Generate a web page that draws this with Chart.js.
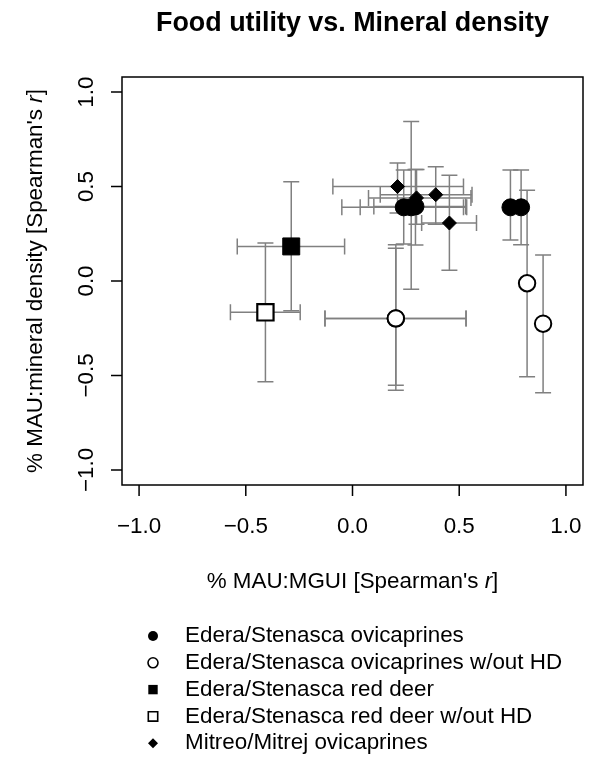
<!DOCTYPE html>
<html><head><meta charset="utf-8">
<script src="https://cdn.jsdelivr.net/npm/chart.js@4.4.1/dist/chart.umd.min.js"></script>
<style>html,body{margin:0;padding:0;background:#fff;}canvas{display:block}</style>
</head><body>
<div style="width:591px;height:758px;position:relative"><canvas id="c" width="591" height="758"></canvas></div>
<script>
// ---- data ----
const chartTitle = "Food utility vs. Mineral density";
const xTitleMain = "% MAU:MGUI [Spearman's ";
const yTitleMain = "% MAU:mineral density [Spearman's ";
const tickValues = [-1.0, -0.5, 0.0, 0.5, 1.0];
const tickLabels = ["\u22121.0", "\u22120.5", "0.0", "0.5", "1.0"];
const seriesLabels = [
  "Edera/Stenasca ovicaprines",
  "Edera/Stenasca ovicaprines w/out HD",
  "Edera/Stenasca red deer",
  "Edera/Stenasca red deer w/out HD",
  "Mitreo/Mitrej ovicaprines"
];
// Edera/Stenasca ovicaprines
const ovX   = [0.24, 0.275, 0.295, 0.74, 0.79];
const ovY   = [0.39, 0.39, 0.395, 0.39, 0.39];
const ovXLo = [-0.05, 0.036, 0.10, null, null];
const ovXHi = [0.52, 0.535, 0.53, null, null];
const ovYLo = [0.196, -0.044, 0.19, 0.217, 0.192];
const ovYHi = [0.587, 0.845, 0.59, 0.587, 0.587];
// Edera/Stenasca ovicaprines w/out HD
const ovHdX   = [0.203, 0.203, 0.818, 0.893];
const ovHdY   = [-0.198, -0.198, -0.012, -0.226];
const ovHdXLo = [-0.129, -0.129, null, null];
const ovHdXHi = [0.532, 0.532, null, null];
const ovHdYLo = [-0.578, -0.552, -0.507, -0.591];
const ovHdYHi = [0.192, 0.173, 0.48, 0.137];
// Edera/Stenasca red deer
const rdX = [-0.287], rdY = [0.183];
const rdXLo = [-0.54], rdXHi = [-0.037], rdYLo = [-0.157], rdYHi = [0.525];
// Edera/Stenasca red deer w/out HD
const rdHdX = [-0.408], rdHdY = [-0.166];
const rdHdXLo = [-0.572], rdHdXHi = [-0.245], rdHdYLo = [-0.534], rdHdYHi = [0.201];
// Mitreo/Mitrej ovicaprines
const miX   = [0.211, 0.39, 0.454, 0.30];
const miY   = [0.50, 0.457, 0.307, 0.44];
const miXLo = [-0.092, 0.13, 0.324, 0.075];
const miXHi = [0.52, 0.56, 0.581, 0.555];
const miYLo = [0.36, 0.30, 0.057, 0.30];
const miYHi = [0.625, 0.605, 0.56, 0.59];

function pts(xs, ys, xlo, xhi, ylo, yhi) {
  return xs.map((x, i) => ({x: x, y: ys[i], xLo: xlo[i], xHi: xhi[i], yLo: ylo[i], yHi: yhi[i]}));
}

const FONT = '"Liberation Sans", Arial, Helvetica, sans-serif';
const BASE = 22.4;
const BAR_COLOR = '#808080';

const datasets = [
  {label: seriesLabels[0], data: pts(ovX, ovY, ovXLo, ovXHi, ovYLo, ovYHi),
   pointStyle: 'circle', pointRadius: 8.5, backgroundColor: '#000', borderColor: '#000', borderWidth: 1, legendStyle: 'circle', legendFill: true},
  {label: seriesLabels[1], data: pts(ovHdX, ovHdY, ovHdXLo, ovHdXHi, ovHdYLo, ovHdYHi),
   pointStyle: 'circle', pointRadius: 8.2, backgroundColor: '#fff', borderColor: '#000', borderWidth: 2, legendStyle: 'circle', legendFill: false},
  {label: seriesLabels[2], data: pts(rdX, rdY, rdXLo, rdXHi, rdYLo, rdYHi),
   pointStyle: 'rect', pointRadius: 12, backgroundColor: '#000', borderColor: '#000', borderWidth: 1, legendStyle: 'rect', legendFill: true},
  {label: seriesLabels[3], data: pts(rdHdX, rdHdY, rdHdXLo, rdHdXHi, rdHdYLo, rdHdYHi),
   pointStyle: 'rect', pointRadius: 11.5, backgroundColor: '#fff', borderColor: '#000', borderWidth: 2.2, legendStyle: 'rect', legendFill: false},
  {label: seriesLabels[4], data: pts(miX, miY, miXLo, miXHi, miYLo, miYHi),
   pointStyle: 'rectRot', pointRadius: 7, backgroundColor: '#000', borderColor: '#000', borderWidth: 1, legendStyle: 'diamond', legendFill: true}
];

const errorBars = {
  id: 'errorBars',
  beforeDatasetsDraw(chart) {
    const ctx = chart.ctx, xs = chart.scales.x, ys = chart.scales.y;
    const cap = 8;
    ctx.save();
    ctx.strokeStyle = BAR_COLOR;
    ctx.lineWidth = 1.5;
    chart.data.datasets.forEach(ds => {
      ds.data.forEach(p => {
        const px = xs.getPixelForValue(p.x), py = ys.getPixelForValue(p.y);
        ctx.beginPath();
        if (p.xLo !== null && p.xHi !== null) {
          const a = xs.getPixelForValue(p.xLo), b = xs.getPixelForValue(p.xHi);
          ctx.moveTo(a, py); ctx.lineTo(b, py);
          ctx.moveTo(a, py - cap); ctx.lineTo(a, py + cap);
          ctx.moveTo(b, py - cap); ctx.lineTo(b, py + cap);
        }
        if (p.yLo !== null && p.yHi !== null) {
          const a = ys.getPixelForValue(p.yLo), b = ys.getPixelForValue(p.yHi);
          ctx.moveTo(px, a); ctx.lineTo(px, b);
          ctx.moveTo(px - cap, a); ctx.lineTo(px + cap, a);
          ctx.moveTo(px - cap, b); ctx.lineTo(px + cap, b);
        }
        ctx.stroke();
      });
    });
    ctx.restore();
  }
};

function drawMixed(ctx, main, cx, cy, size) {
  ctx.font = size + 'px ' + FONT;
  const w1 = ctx.measureText(main).width;
  ctx.font = 'italic ' + size + 'px ' + FONT;
  const w2 = ctx.measureText('r').width;
  ctx.font = size + 'px ' + FONT;
  const w3 = ctx.measureText(']').width;
  const total = w1 + w2 + w3;
  let x = cx - total / 2;
  ctx.textAlign = 'left';
  ctx.textBaseline = 'middle';
  ctx.fillText(main, x, cy); x += w1;
  ctx.font = 'italic ' + size + 'px ' + FONT;
  ctx.fillText('r', x, cy); x += w2;
  ctx.font = size + 'px ' + FONT;
  ctx.fillText(']', x, cy);
}

const frame = {
  id: 'frame',
  afterDraw(chart) {
    const ctx = chart.ctx, a = chart.chartArea, xs = chart.scales.x, ys = chart.scales.y;
    ctx.save();
    ctx.strokeStyle = '#000';
    ctx.lineWidth = 1.5;
    ctx.strokeRect(a.left, a.top, a.right - a.left, a.bottom - a.top);
    const tl = 11;
    ctx.beginPath();
    tickValues.forEach(v => {
      const px = xs.getPixelForValue(v);
      ctx.moveTo(px, a.bottom); ctx.lineTo(px, a.bottom + tl);
      const py = ys.getPixelForValue(v);
      ctx.moveTo(a.left - tl, py); ctx.lineTo(a.left, py);
    });
    ctx.stroke();
    ctx.fillStyle = '#000';
    ctx.font = BASE + 'px ' + FONT;
    ctx.textAlign = 'center';
    ctx.textBaseline = 'middle';
    tickValues.forEach((v, i) => {
      ctx.fillText(tickLabels[i], xs.getPixelForValue(v), 527);
    });
    tickValues.forEach((v, i) => {
      ctx.save();
      ctx.translate(87, ys.getPixelForValue(v));
      ctx.rotate(-Math.PI / 2);
      ctx.fillText(tickLabels[i], 0, 0);
      ctx.restore();
    });
    // axis titles
    drawMixed(ctx, xTitleMain, (a.left + a.right) / 2, 582, BASE);
    ctx.save();
    ctx.translate(36, (a.top + a.bottom) / 2);
    ctx.rotate(-Math.PI / 2);
    drawMixed(ctx, yTitleMain, 0, 0, BASE);
    ctx.restore();
    // title
    ctx.font = 'bold 26.9px ' + FONT;
    ctx.textAlign = 'center';
    ctx.textBaseline = 'middle';
    ctx.fillText(chartTitle, (a.left + a.right) / 2, 24);
    // legend
    const lx = 153, tx = 185, ly0 = 636, dy = 26.8;
    chart.data.datasets.forEach((ds, i) => {
      const y = ly0 + i * dy;
      ctx.beginPath();
      if (ds.legendStyle === 'circle') {
        ctx.arc(lx, y, 5, 0, Math.PI * 2);
      } else if (ds.legendStyle === 'rect') {
        ctx.rect(lx - 4.7, y - 4.7, 9.4, 9.4);
      } else {
        ctx.moveTo(lx - 5, y); ctx.lineTo(lx, y - 5); ctx.lineTo(lx + 5, y); ctx.lineTo(lx, y + 5); ctx.closePath();
      }
      if (ds.legendFill) { ctx.fillStyle = '#000'; ctx.fill(); }
      else { ctx.fillStyle = '#fff'; ctx.fill(); ctx.lineWidth = 1.6; ctx.strokeStyle = '#000'; ctx.stroke(); }
      ctx.fillStyle = '#000';
      ctx.font = BASE + 'px ' + FONT;
      ctx.textAlign = 'left';
      ctx.textBaseline = 'middle';
      ctx.fillText(ds.label, tx, y);
    });
    ctx.restore();
  }
};

new Chart(document.getElementById('c'), {
  type: 'scatter',
  data: {datasets: datasets},
  options: {
    responsive: false,
    animation: false,
    events: [],
    layout: {autoPadding: false, padding: {left: 122, right: 8, top: 77, bottom: 273}},
    plugins: {legend: {display: false}, title: {display: false}, tooltip: {enabled: false}},
    scales: {
      x: {type: 'linear', min: -1.08, max: 1.08, display: false},
      y: {type: 'linear', min: -1.08, max: 1.08, display: false}
    }
  },
  plugins: [errorBars, frame]
});
</script>
</body></html>
